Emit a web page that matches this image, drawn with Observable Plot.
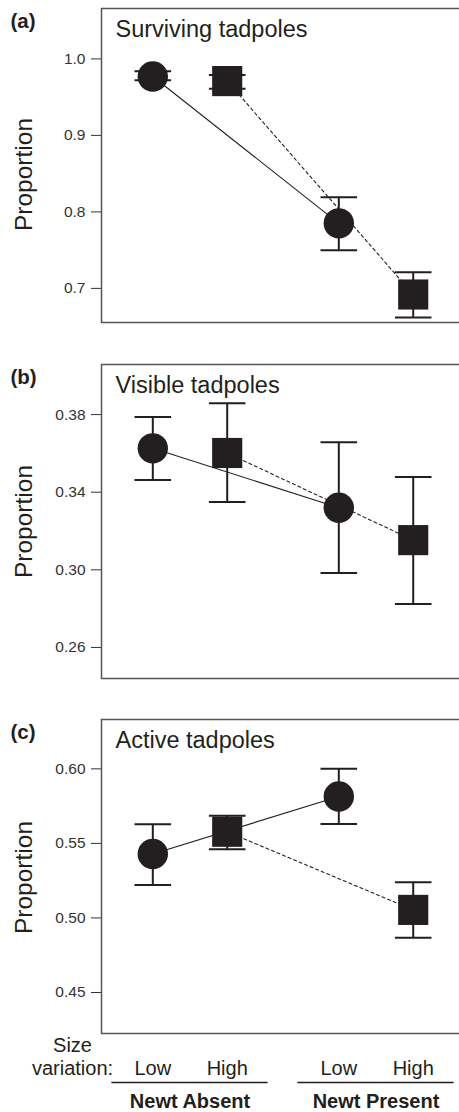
<!DOCTYPE html>
<html>
<head>
<meta charset="utf-8">
<script src="https://cdn.jsdelivr.net/npm/d3@7"></script>
<script src="https://cdn.jsdelivr.net/npm/@observablehq/plot@0.6"></script>
<style>
  html, body { margin: 0; padding: 0; background: #fff; overflow: hidden; }
  #wrap { position: relative; width: 459px; height: 1112px; overflow: hidden; }
  .panel { position: absolute; left: 0; width: 470px; }
  .panel svg { max-width: none !important; }
</style>
</head>
<body>
<div id="wrap"></div>
<script>
// ---- data ----
const newt = ["Newt Absent", "Newt Absent", "Newt Present", "Newt Present"];
const sizeVar = ["Low", "High", "Low", "High"];
const newtLevels = ["Newt Absent", "Newt Present"];
const sizeLevels = ["Low", "High"];

const survMean = [0.977, 0.971, 0.785, 0.692];
const survLo   = [0.972, 0.961, 0.750, 0.662];
const survHi   = [0.984, 0.979, 0.819, 0.721];

const visMean = [0.3626, 0.3602, 0.3320, 0.3153];
const visLo   = [0.3463, 0.3349, 0.2983, 0.2824];
const visHi   = [0.3788, 0.3858, 0.3657, 0.3478];

const actMean = [0.5429, 0.5578, 0.5815, 0.5054];
const actLo   = [0.5221, 0.5460, 0.5630, 0.4868];
const actHi   = [0.5628, 0.5686, 0.6000, 0.5240];

const survTicks = [0.7, 0.8, 0.9, 1.0];
const visTicks  = [0.26, 0.30, 0.34, 0.38];
const actTicks  = [0.45, 0.50, 0.55, 0.60];

const panelLabels = ["(a)", "(b)", "(c)"];
const panelTitles = ["Surviving tadpoles", "Visible tadpoles", "Active tadpoles"];
const yLabel = "Proportion";
const sizeTitle = ["Size", "variation:"];

// ---- helpers ----
const ink = "#231f20";
const GAP = 2.5; // slot spacing between newt groups
const slot = d => newtLevels.indexOf(d.newt) * GAP + sizeLevels.indexOf(d.size);
const capSymbol = {
  draw(ctx, size) {
    const w = Math.sqrt(size / Math.PI);
    ctx.moveTo(-w, 0);
    ctx.lineTo(w, 0);
  }
};

function panel(opts) {
  const {mean, lo, hi, domain, ticks, fmt, idx, propDy, bottom} = opts;
  const rows = newt.map((n, i) => ({newt: n, size: sizeVar[i], mean: mean[i], lo: lo[i], hi: hi[i]}));
  const lowRows = rows.filter(d => d.size === "Low");
  const highRows = rows.filter(d => d.size === "High");
  const marginBottom = bottom ? 79 : 4;
  const marks = [
    Plot.frame({stroke: "#555", strokeWidth: 1.5}),
    Plot.line(lowRows, {x: slot, y: "mean", stroke: ink, strokeWidth: 1.1}),
    Plot.line(highRows, {x: slot, y: "mean", stroke: ink, strokeWidth: 1.1, strokeDasharray: "3,3"}),
    Plot.ruleX(rows, {x: slot, y1: "lo", y2: "hi", stroke: ink, strokeWidth: 2}),
    Plot.dot(rows, {x: slot, y: "lo", symbol: capSymbol, r: 18.3, stroke: ink, strokeWidth: 2, fill: "none"}),
    Plot.dot(rows, {x: slot, y: "hi", symbol: capSymbol, r: 18.3, stroke: ink, strokeWidth: 2, fill: "none"}),
    Plot.dot(lowRows, {x: slot, y: "mean", r: 15.2, fill: ink, stroke: "none"}),
    Plot.dot(highRows, {x: slot, y: "mean", symbol: "square", r: 17, fill: ink, stroke: "none"}),
    Plot.text([panelLabels[idx]], {text: d => d, frameAnchor: "top-left", dx: -91, dy: 19.5, fontWeight: "bold", fontSize: 20.5, textAnchor: "start", lineAnchor: "bottom", fill: ink}),
    Plot.text([panelTitles[idx]], {text: d => d, frameAnchor: "top-left", dx: 14, dy: 28.4, fontSize: 23.5, textAnchor: "start", lineAnchor: "bottom", fill: ink}),
    Plot.text([yLabel], {text: d => d, frameAnchor: "left", dx: -70, dy: propDy, rotate: -90, fontSize: 24.5, textAnchor: "middle", lineAnchor: "bottom", fill: ink})
  ];
  if (bottom) {
    marks.push(
      Plot.text(rows, {x: slot, text: "size", frameAnchor: "bottom", dy: 41, fontSize: 20, lineAnchor: "bottom", fill: ink}),
      Plot.ruleY(newtLevels, {
        x1: g => newtLevels.indexOf(g) * GAP - 0.55,
        x2: g => newtLevels.indexOf(g) * GAP + 1.55,
        y: () => domain[0], dy: 49, stroke: ink, strokeWidth: 1.3
      }),
      Plot.text(newtLevels, {x: g => newtLevels.indexOf(g) * GAP + 0.5, text: d => d, frameAnchor: "bottom", dy: 74.3, fontSize: 20, fontWeight: "bold", lineAnchor: "bottom", fill: ink}),
      Plot.text([sizeTitle[0]], {text: d => d, frameAnchor: "bottom-left", dx: -29, dy: 18.7, fontSize: 20, textAnchor: "middle", lineAnchor: "bottom", fill: ink}),
      Plot.text([sizeTitle[1]], {text: d => d, frameAnchor: "bottom-left", dx: -29, dy: 41, fontSize: 20, textAnchor: "middle", lineAnchor: "bottom", fill: ink})
    );
  }
  return Plot.plot({
    width: 470,
    height: 8 + 314 + marginBottom,
    marginLeft: 101,
    marginRight: 0,
    marginTop: 8,
    marginBottom,
    style: {fontFamily: "'Liberation Sans', Arial, Helvetica, sans-serif", fontSize: "15.5px", color: "#333", background: "transparent", overflow: "visible", maxWidth: "none"},
    x: {domain: [-0.6895, 4.27], axis: null},
    y: {domain, ticks, tickFormat: d3.format(fmt), tickSize: 10, tickPadding: 6, label: null},
    marks
  });
}

const wrap = document.getElementById("wrap");
const specs = [
  {top: 0,   mean: survMean, lo: survLo, hi: survHi, domain: [0.6554, 1.0659], ticks: survTicks, fmt: ".1f", idx: 0, propDy: 9},
  {top: 356, mean: visMean,  lo: visLo,  hi: visHi,  domain: [0.244, 0.4058],  ticks: visTicks,  fmt: ".2f", idx: 1, propDy: 0},
  {top: 711, mean: actMean,  lo: actLo,  hi: actHi,  domain: [0.4225, 0.6331], ticks: actTicks,  fmt: ".2f", idx: 2, propDy: 1, bottom: true}
];
for (const s of specs) {
  const div = document.createElement("div");
  div.className = "panel";
  div.style.top = s.top + "px";
  div.appendChild(panel(s));
  wrap.appendChild(div);
}
</script>
</body>
</html>
